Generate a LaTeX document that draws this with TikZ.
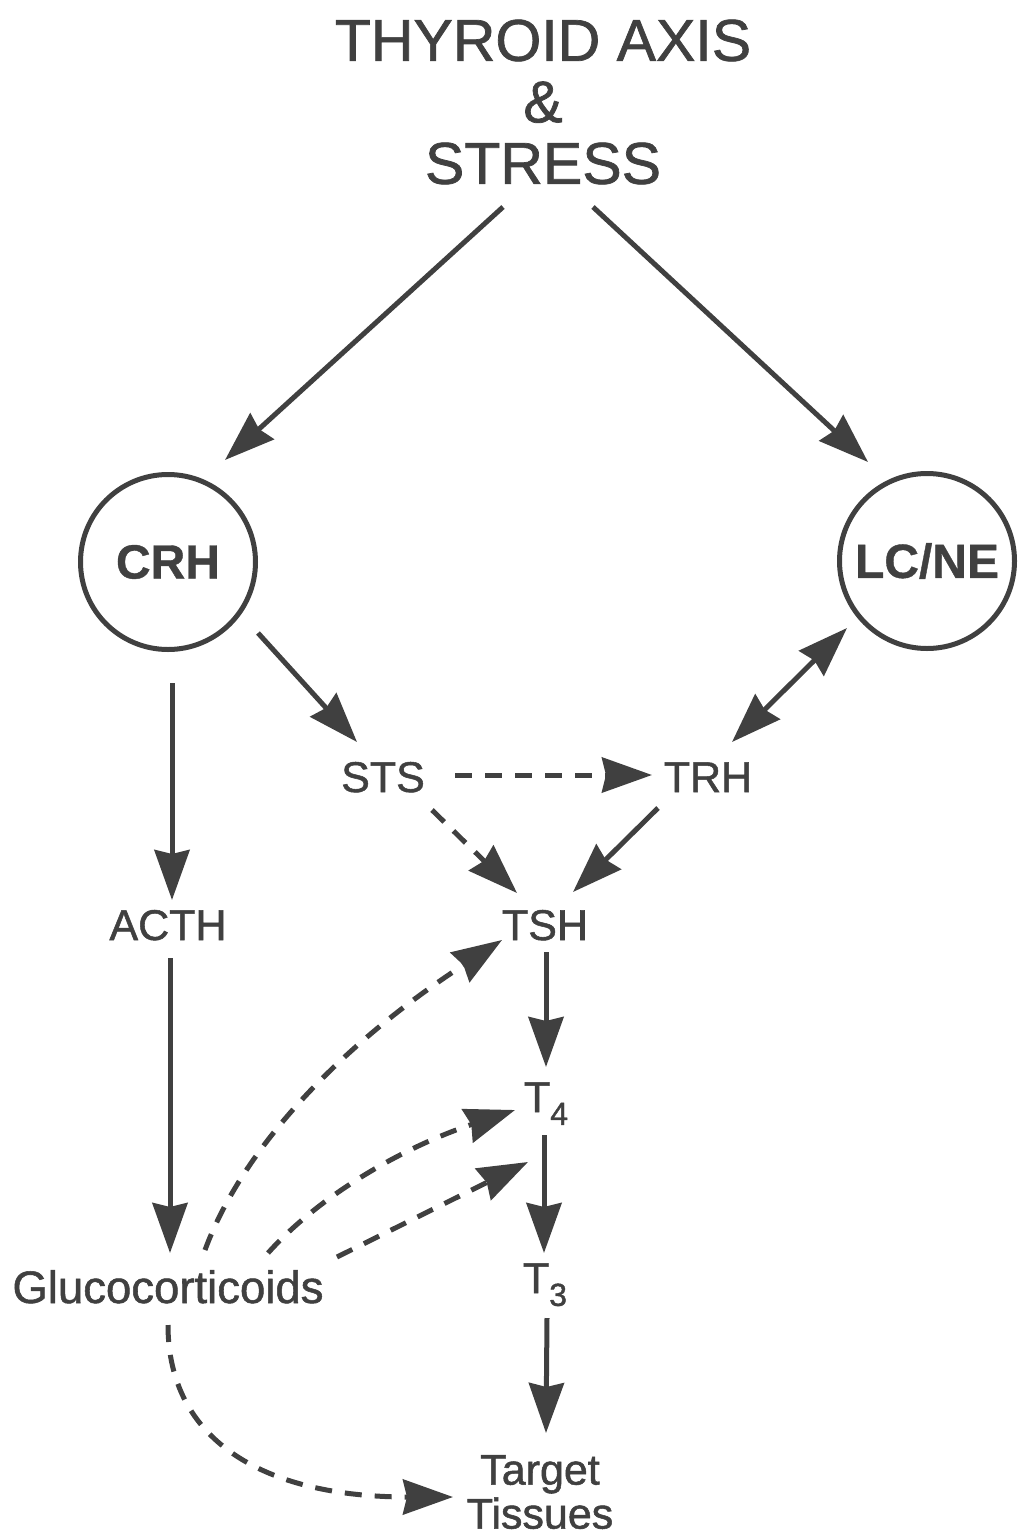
\documentclass[tikz,border=0pt]{standalone}
\usepackage{fontspec}
\setmainfont{Liberation Sans}
\newfontfamily\medfont{Liberation Sans}[FakeBold=1.2]
\newfontfamily\heavyfont{Liberation Sans Bold}[FakeBold=0.8]
\usetikzlibrary{arrows.meta}
\definecolor{ink}{HTML}{404040}
\newcommand\mysub[1]{\raisebox{-0.3em}{\fontsize{32}{32}\selectfont #1}}
\begin{document}
\begin{tikzpicture}[x=1pt,y=-1pt,
  >={Stealth[length=50pt,width=35pt,inset=4pt]},
  lbl/.style={text=ink, inner sep=0pt, anchor=base, font=\medfont\fontsize{43}{43}\selectfont},
  circ/.style={draw=ink, line width=5pt, circle, minimum size=175pt, inner sep=0pt,
    text=ink, font=\heavyfont\fontsize{48}{48}\selectfont},
  arr/.style={draw=ink, line width=5pt, ->},
  dbl/.style={draw=ink, line width=5pt, <->},
  darr/.style={arr, dash pattern=on 17pt off 13pt}
]
\useasboundingbox (0,0) rectangle (1020,1539);

% nodes
\node[text=ink, align=center, inner sep=0pt, font=\medfont\fontsize{59}{61.5}\selectfont]
  (title) at (543,102) {THYROID AXIS\\\&\\STRESS};
\node[circ] (crh) at (168,562) {CRH};
\node[circ] (lcne) at (927,561) {LC/NE};
\node[lbl] (sts) at (383,792) {STS};
\node[lbl] (trh) at (708,792) {TRH};
\node[lbl] (acth) at (168,940) {ACTH};
\node[lbl] (tsh) at (545,940) {TSH};
\node[lbl] (t4) at (546,1112) {T\mysub{4}};
\node[lbl] (t3) at (545,1293) {T\mysub{3}};
\node[lbl, font=\medfont\fontsize{45.5}{45.5}\selectfont] (gluco) at (168,1303) {Glucocorticoids};
\node[text=ink, align=center, inner sep=0pt, font=\medfont\fontsize{43}{44}\selectfont]
  (target) at (540,1492) {Target\\Tissues};

% solid connectors
\draw[arr] ([shift={(-40,105)}]title.center) -- ([shift={(57,-102)}]crh.center);
\draw[arr] ([shift={(50,105)}]title.center) -- ([shift={(-59,-99)}]lcne.center);
\draw[arr] ([shift={(90,71)}]crh.center) -- ([shift={(-26,-50)}]sts.base);
\draw[arr] ([shift={(4,121)}]crh.center) -- ([shift={(4,-40)}]acth.base);
\draw[dbl] ([shift={(-80,67)}]lcne.center) -- ([shift={(24,-50)}]trh.base);
\draw[arr] ([shift={(-50,16)}]trh.base) -- ([shift={(28,-48)}]tsh.base);
\draw[arr] ([shift={(2,18)}]acth.base) -- ([shift={(2,-50)}]gluco.base);
\draw[arr] ([shift={(1,12)}]tsh.base) -- ([shift={(0,-45)}]t4.base);
\draw[arr] ([shift={(-2,23)}]t4.base) -- ([shift={(-1,-40)}]t3.base);
\draw[arr] ([shift={(2,25)}]t3.base) -- ([shift={(6,-59)}]target.center);

% dashed connectors
\draw[darr] ([shift={(72,-17)}]sts.base) -- ([shift={(-56,-17)}]trh.base);
\draw[darr] ([shift={(49,18)}]sts.base) -- ([shift={(-28,-47)}]tsh.base);
\draw[darr] ([shift={(37,-53)}]gluco.base) .. controls +(38,-103) and +(-160,104) .. ([shift={(-43,0)}]tsh.base);
\draw[darr] ([shift={(100,-50)}]gluco.base) .. controls +(53,-59) and +(-111,37) .. ([shift={(-31,-2)}]t4.base);
\draw[darr] ([shift={(169,-46)}]gluco.base) -- ([shift={(-18,50)}]t4.base);
\draw[darr] ([shift={(0,22)}]gluco.base) .. controls +(0,115) and +(-190,0) .. ([shift={(-87,5)}]target.center);
\end{tikzpicture}
\end{document}
